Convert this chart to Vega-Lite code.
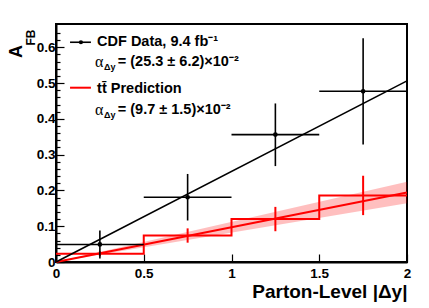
{
  "$schema": "https://vega.github.io/schema/vega-lite/v6.json",
  "width": 351,
  "height": 238,
  "autosize": "none",
  "padding": {"left": 56, "top": 24, "right": 22, "bottom": 46},
  "background": "white",
  "config": {
    "font": "Liberation Sans",
    "view": {"stroke": "black", "strokeWidth": 2},
    "axis": {"grid": false}
  },
  "datasets": {
    "cdf": [
      {"xlo": 0, "xhi": 0.5, "x": 0.25, "y": 0.049, "ylo": 0.010, "yhi": 0.088},
      {"xlo": 0.5, "xhi": 1, "x": 0.75, "y": 0.181, "ylo": 0.116, "yhi": 0.246},
      {"xlo": 1, "xhi": 1.5, "x": 1.25, "y": 0.356, "ylo": 0.268, "yhi": 0.443},
      {"xlo": 1.5, "xhi": 2, "x": 1.75, "y": 0.477, "ylo": 0.328, "yhi": 0.625}
    ],
    "pred": [
      {"x": 0.25, "y": 0.023, "ylo": 0.016, "yhi": 0.030},
      {"x": 0.75, "y": 0.074, "ylo": 0.054, "yhi": 0.094},
      {"x": 1.25, "y": 0.120, "ylo": 0.086, "yhi": 0.154},
      {"x": 1.75, "y": 0.186, "ylo": 0.131, "yhi": 0.241}
    ],
    "step": [
      {"x": 0, "y": 0.023},
      {"x": 0.5, "y": 0.074},
      {"x": 1, "y": 0.120},
      {"x": 1.5, "y": 0.186},
      {"x": 2, "y": 0.186}
    ],
    "fitcdf": [{"x": 0, "y": 0}, {"x": 2, "y": 0.506}],
    "fitpred": [{"x": 0, "y": 0, "lo": 0, "hi": 0}, {"x": 2, "y": 0.194, "lo": 0.164, "hi": 0.224}],
    "legCdf": [{"x": 0.080, "x2": 0.199, "y": 0.614, "px": 0.142}],
    "legPred": [{"x": 0.080, "x2": 0.199, "y": 0.487}],
    "legText": [
      {"x": 0.234, "y": 0.616, "t": "CDF Data, 9.4 fb⁻¹"},
      {"x": 0.352, "y": 0.560, "t": "= (25.3 ± 6.2)×10⁻²"},
      {"x": 0.234, "y": 0.482, "t": "tt̄ Prediction"},
      {"x": 0.352, "y": 0.426, "t": "= (9.7 ± 1.5)×10⁻²"}
    ],
    "legAlpha": [
      {"x": 0.222, "y": 0.560, "t": "α"},
      {"x": 0.222, "y": 0.426, "t": "α"}
    ],
    "legSub": [
      {"x": 0.2735, "y": 0.560, "t": "Δy"},
      {"x": 0.2735, "y": 0.426, "t": "Δy"}
    ]
  },
  "resolve": {"axis": {"y": "independent", "x": "independent"}},
  "layer": [
    {
      "data": {"name": "fitpred"},
      "mark": {"type": "area", "color": "#ff0000", "opacity": 0.25},
      "encoding": {
        "x": {"field": "x", "type": "quantitative", "scale": {"domain": [0, 2], "nice": false},
          "axis": {"values": [0, 0.5, 1, 1.5, 2], "format": ".1~f", "tickSize": -8, "tickColor": "black", "tickWidth": 1.2,
            "domainColor": "black", "domainWidth": 2, "labelFont": "Liberation Sans", "labelFontWeight": "bold", "labelFontSize": 13.5,
            "labelColor": "black", "labelPadding": 12, "labelFlush": false,
            "title": "Parton-Level |Δy|", "titleFont": "Liberation Sans", "titleFontWeight": "bold", "titleFontSize": 19, "titleColor": "black",
            "titleAnchor": "end", "titleAlign": "right", "titleBaseline": "alphabetic", "titleX": 351, "titleY": 35}},
        "y": {"field": "lo", "type": "quantitative", "scale": {"domain": [0, 0.665], "nice": false},
          "axis": {"values": [0, 0.1, 0.2, 0.3, 0.4, 0.5, 0.6], "format": ".1~f", "tickSize": -8, "tickColor": "black", "tickWidth": 1.2,
            "domainColor": "black", "domainWidth": 2, "labelFont": "Liberation Sans", "labelFontWeight": "bold", "labelFontSize": 13.5,
            "labelColor": "black", "labelPadding": 9, "labelFlush": false, "orient": "left",
            "title": "A", "titleFont": "Liberation Sans", "titleFontWeight": "bold", "titleFontSize": 18, "titleColor": "black",
            "titleAngle": -90, "titleAlign": "center", "titleBaseline": "middle", "titleX": -39.5, "titleY": 27}},
        "y2": {"field": "hi"}
      }
    },
    {
      "data": {"name": "fitpred"},
      "mark": {"type": "line", "color": "#ff0000", "strokeWidth": 2},
      "encoding": {
        "x": {"field": "x", "type": "quantitative", "axis": null},
        "y": {"field": "y", "type": "quantitative",
          "axis": {"values": [0.02, 0.04, 0.06, 0.08, 0.12, 0.14, 0.16, 0.18, 0.22, 0.24, 0.26, 0.28, 0.32, 0.34, 0.36, 0.38, 0.42, 0.44, 0.46, 0.48, 0.52, 0.54, 0.56, 0.58, 0.62, 0.64],
            "orient": "left", "labels": false, "domain": false, "tickSize": -4, "tickColor": "black", "tickWidth": 1.2,
            "title": "FB", "titleFont": "Liberation Sans", "titleFontWeight": "bold", "titleFontSize": 12, "titleColor": "black",
            "titleAngle": -90, "titleAlign": "center", "titleBaseline": "middle", "titleX": -26, "titleY": 13}}
      }
    },
    {
      "data": {"name": "step"},
      "mark": {"type": "line", "color": "#ff0000", "strokeWidth": 2, "interpolate": "step-after"},
      "encoding": {
        "x": {"field": "x", "type": "quantitative", "axis": null},
        "y": {"field": "y", "type": "quantitative", "axis": null}
      }
    },
    {
      "data": {"name": "pred"},
      "mark": {"type": "rule", "color": "#ff0000", "strokeWidth": 2},
      "encoding": {
        "x": {"field": "x", "type": "quantitative", "axis": null},
        "y": {"field": "ylo", "type": "quantitative", "axis": null},
        "y2": {"field": "yhi"}
      }
    },
    {
      "data": {"name": "fitcdf"},
      "mark": {"type": "line", "color": "black", "strokeWidth": 1.6},
      "encoding": {
        "x": {"field": "x", "type": "quantitative", "axis": null},
        "y": {"field": "y", "type": "quantitative", "axis": null}
      }
    },
    {
      "data": {"name": "cdf"},
      "mark": {"type": "rule", "color": "black", "strokeWidth": 1.6},
      "encoding": {
        "x": {"field": "x", "type": "quantitative", "axis": null},
        "y": {"field": "ylo", "type": "quantitative", "axis": null},
        "y2": {"field": "yhi"}
      }
    },
    {
      "data": {"name": "cdf"},
      "mark": {"type": "rule", "color": "black", "strokeWidth": 1.6},
      "encoding": {
        "x": {"field": "xlo", "type": "quantitative", "axis": null},
        "x2": {"field": "xhi"},
        "y": {"field": "y", "type": "quantitative", "axis": null}
      }
    },
    {
      "data": {"name": "cdf"},
      "mark": {"type": "point", "filled": true, "color": "black", "size": 22, "opacity": 1},
      "encoding": {
        "x": {"field": "x", "type": "quantitative", "axis": null},
        "y": {"field": "y", "type": "quantitative", "axis": null}
      }
    },
    {
      "data": {"name": "legCdf"},
      "mark": {"type": "rule", "color": "black", "strokeWidth": 1.6},
      "encoding": {
        "x": {"field": "x", "type": "quantitative", "axis": null},
        "x2": {"field": "x2"},
        "y": {"field": "y", "type": "quantitative", "axis": null}
      }
    },
    {
      "data": {"name": "legCdf"},
      "mark": {"type": "point", "filled": true, "color": "black", "size": 18, "opacity": 1},
      "encoding": {
        "x": {"field": "px", "type": "quantitative", "axis": null},
        "y": {"field": "y", "type": "quantitative", "axis": null}
      }
    },
    {
      "data": {"name": "legPred"},
      "mark": {"type": "rule", "color": "#ff0000", "strokeWidth": 2},
      "encoding": {
        "x": {"field": "x", "type": "quantitative", "axis": null},
        "x2": {"field": "x2"},
        "y": {"field": "y", "type": "quantitative", "axis": null}
      }
    },
    {
      "data": {"name": "legText"},
      "mark": {"type": "text", "align": "left", "baseline": "middle", "font": "Liberation Sans", "fontWeight": "bold", "fontSize": 14.5, "color": "black"},
      "encoding": {
        "x": {"field": "x", "type": "quantitative", "axis": null},
        "y": {"field": "y", "type": "quantitative", "axis": null},
        "text": {"field": "t"}
      }
    },
    {
      "data": {"name": "legAlpha"},
      "mark": {"type": "text", "align": "left", "baseline": "middle", "font": "Liberation Serif", "fontSize": 16, "color": "black"},
      "encoding": {
        "x": {"field": "x", "type": "quantitative", "axis": null},
        "y": {"field": "y", "type": "quantitative", "axis": null},
        "text": {"field": "t"}
      }
    },
    {
      "data": {"name": "legSub"},
      "mark": {"type": "text", "align": "left", "baseline": "middle", "dy": 5, "font": "Liberation Sans", "fontWeight": "bold", "fontSize": 9, "color": "black"},
      "encoding": {
        "x": {"field": "x", "type": "quantitative", "axis": null},
        "y": {"field": "y", "type": "quantitative", "axis": null},
        "text": {"field": "t"}
      }
    }
  ]
}
